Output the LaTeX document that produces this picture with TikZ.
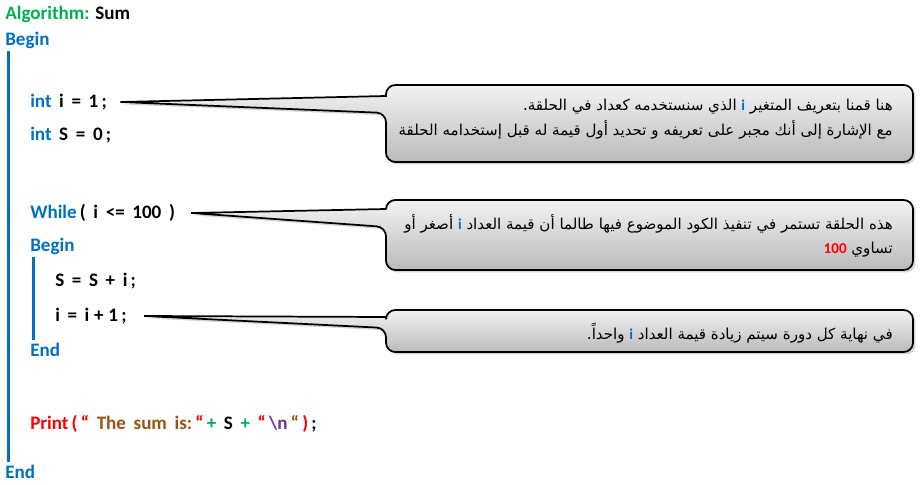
\documentclass[tikz,border=0pt]{standalone}
\usepackage{fontspec}
\setmainfont{Carlito}
\newfontfamily\arabicfont[Script=Arabic]{DejaVu Sans}
\TeXXeTstate=1
\usetikzlibrary{shadows}
\definecolor{kwblue}{RGB}{0,112,192}
\definecolor{algogreen}{RGB}{0,176,80}
\definecolor{strbrown}{RGB}{152,84,16}
\definecolor{escpurple}{RGB}{112,48,160}
\newcommand\gap{\hspace{0.4em}}
\newcommand\lat[2]{\beginL\textcolor{#1}{\normalfont\bfseries #2}\endL}
\tikzset{
	code/.style={anchor=west,inner sep=0,font=\bfseries\fontsize{14.3}{16}\selectfont},
	kw/.style={code,text=kwblue},
	bar/.style={kwblue,line width=2.2pt},
	bubble/.style={draw=black,line width=1.3pt,top color=black!5,bottom color=black!27,
		drop shadow={opacity=.35,shadow xshift=1.8pt,shadow yshift=-1.8pt}},
	note/.style={anchor=north east,inner sep=0,align=right,font=\arabicfont\fontsize{11.3}{18.5}\selectfont}
}
\begin{document}
\begin{tikzpicture}[x=.75pt,y=-.75pt]
		\useasboundingbox (0,0) rectangle (922,485);
		\node[code] (algo) at (5,14){\textcolor{algogreen}{Algorithm:} Sum};
		\node[kw] (begin) at (5,40){Begin};
		\node[kw] (end) at (5,472){End};
		\draw[bar] ([xshift=2.6pt,yshift=-2pt]begin.south west)--([xshift=2.6pt,yshift=2pt]end.north west);
		% declarations
		\node[code] (inti) at (30,102){\textcolor{kwblue}{int}\gap i\gap =\gap 1\,;};
		\node[code] (ints) at (30,135){\textcolor{kwblue}{int}\gap S\gap =\gap 0\,;};
		% loop
		\node[code] (while) at (30,213){\textcolor{kwblue}{While}\,(\gap i\gap <=\gap 100\gap )};
		\node[kw] (lbegin) at (30,246){Begin};
		\node[code] (sum) at (55,281){S\gap =\gap S\gap +\gap i\,;};
		\node[code] (inc) at (55,316){i\gap =\gap i\hspace{.25em}+\hspace{.25em}1\,;};
		\node[kw] (lend) at (30,350){End};
		\draw[bar] ([xshift=2.6pt,yshift=-2pt]lbegin.south west)--([xshift=2.6pt,yshift=2pt]lend.north west);
		\node[code] (print) at (30,424){\textcolor{red}{Print\,(\,“}\gap\textcolor{strbrown}{The\gap sum\gap is:}\,\textcolor{red}{“}\,\textcolor{algogreen}{+}\gap S\gap \textcolor{algogreen}{+}\gap \textcolor{red}{“}\,\textcolor{escpurple}{\textbackslash n}\,\textcolor{strbrown}{“}\,\textcolor{red}{)}\,;};
		% callouts
		\draw[bubble] ([xshift=10pt]inti.east)--(386,96)[rounded corners=7pt]--(386,85)--(913,85)--(913,162)--(386,162)--(386,113)[sharp corners]--cycle;
		\draw[bubble] ([xshift=12pt]while.east)--(386,209)[rounded corners=7pt]--(386,200)--(913,200)--(913,270)--(386,270)--(386,227)[sharp corners]--cycle;
		\draw[bubble] ([xshift=13pt]inc.east)--(386,317)[rounded corners=7pt]--(386,310)--(913,310)--(913,352)--(386,352)--(386,328)[sharp corners]--cycle;
		\node[note] (n1) at (893,99){\beginR هنا قمنا بتعريف المتغير \lat{kwblue}{i} الذي سنستخدمه كعداد في الحلقة.\endR\\\beginR مع الإشارة إلى أنك مجبر على تعريفه و تحديد أول قيمة له قبل إستخدامه الحلقة\endR};
		\node[note] (n2) at (893,214){\beginR هذه الحلقة تستمر في تنفيذ الكود الموضوع فيها طالما أن قيمة العداد \lat{kwblue}{i} أصغر أو\endR\\\beginR تساوي \lat{red}{100}\endR};
		\node[note] (n3) at (893,323){\beginR في نهاية كل دورة سيتم زيادة قيمة العداد \lat{kwblue}{i} واحداً.\endR};
	\end{tikzpicture}
\end{document}
